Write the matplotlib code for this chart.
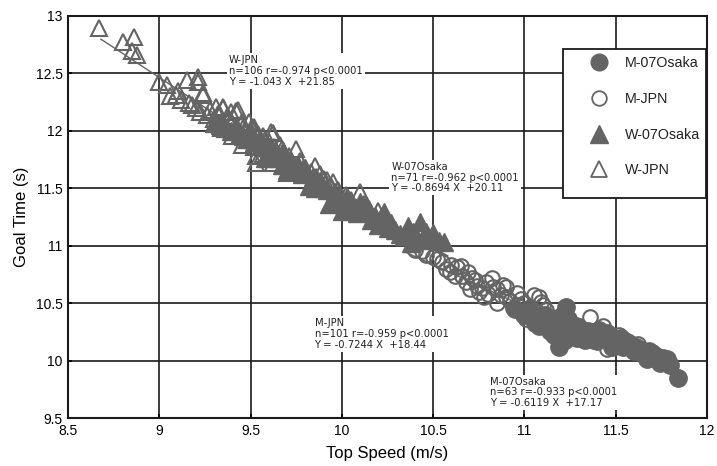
import matplotlib
matplotlib.use("Agg")
import matplotlib.pyplot as plt
from matplotlib.lines import Line2D
from matplotlib.patches import Rectangle
import numpy as np

# Top speed (m/s) and goal time (s) for each group
wjpn_x = [8.67, 8.80, 8.86, 8.85, 8.88, 9.00, 9.04, 9.09, 9.15, 9.21, 9.21, 9.24, 9.12, 9.16,
          9.22, 9.31, 9.35, 9.42, 9.30, 9.40, 9.51, 9.44, 9.55, 9.62, 9.59, 9.53, 9.68, 9.75,
          9.85, 9.70, 9.95, 9.24, 9.35, 9.43, 9.52, 9.61, 9.66, 9.92, 9.53, 10.10, 9.26, 9.33,
          9.37, 9.47, 9.49, 9.57, 9.64, 9.72, 9.80, 9.88, 10.02, 10.20,
          9.28, 9.32, 9.38, 9.39, 9.45, 9.46, 9.50, 9.54, 9.56, 9.58, 9.60, 9.63, 9.65, 9.67,
          9.69, 9.71, 9.74, 9.77, 9.79, 9.83, 9.86, 9.90, 9.94, 9.98, 10.05, 10.12, 10.15, 10.25,
          9.20, 9.18, 9.10, 9.06, 9.34, 9.41, 9.48, 9.52, 9.57, 9.62, 9.45, 9.40]
wjpn_y = [12.89, 12.77, 12.82, 12.69, 12.66, 12.42, 12.40, 12.31, 12.44, 12.47, 12.42, 12.31, 12.27, 12.24,
          12.16, 12.21, 12.20, 12.17, 12.10, 12.07, 12.03, 11.95, 11.92, 11.98, 11.85, 11.78, 11.78, 11.84,
          11.69, 11.63, 11.55, 12.33, 12.21, 12.18, 12.03, 11.99, 11.88, 11.57, 11.72, 11.47, 12.14, 12.06,
          12.12, 11.98, 12.08, 11.95, 11.82, 11.72, 11.66, 11.62, 11.44, 11.30,
          12.18, 12.15, 12.10, 12.16, 12.08, 12.02, 12.00, 11.97, 11.88, 11.92, 11.90, 11.86, 11.80, 11.84,
          11.75, 11.78, 11.70, 11.74, 11.68, 11.64, 11.60, 11.58, 11.52, 11.48, 11.40, 11.36, 11.32, 11.22,
          12.20, 12.22, 12.35, 12.30, 12.02, 12.00, 11.92, 11.86, 11.80, 11.72, 11.88, 11.95]

wosk_x = [9.30, 9.36, 9.42, 9.46, 9.50, 9.55, 9.60, 9.63, 9.68, 9.72, 9.76, 9.80, 9.84, 9.88,
          9.90, 9.93, 9.96, 9.99, 10.03, 10.06, 10.10, 10.14, 10.18, 10.23, 10.27, 10.32, 10.36,
          10.41, 10.43, 10.46, 10.50, 10.56, 9.58, 9.70, 9.82, 10.00, 10.20, 10.38,
          9.33, 9.39, 9.44, 9.48, 9.52, 9.57, 9.62, 9.65, 9.67, 9.74, 9.78, 9.86, 9.92, 9.97,
          10.01, 10.05, 10.08, 10.12, 10.16, 10.21, 10.25, 10.29, 10.34, 10.39, 10.44, 10.48,
          10.53, 9.95, 9.85]
wosk_y = [12.07, 12.02, 12.04, 11.95, 11.98, 11.90, 11.86, 11.80, 11.82, 11.73, 11.70, 11.68, 11.60, 11.56,
          11.50, 11.36, 11.47, 11.40, 11.42, 11.35, 11.38, 11.34, 11.26, 11.29, 11.20, 11.10, 11.17,
          11.07, 11.21, 11.12, 11.11, 11.03, 11.76, 11.66, 11.52, 11.30, 11.18, 11.02,
          12.05, 12.00, 11.98, 11.93, 11.90, 11.88, 11.80, 11.76, 11.70, 11.66, 11.62, 11.55, 11.48, 11.42,
          11.36, 11.31, 11.28, 11.30, 11.22, 11.23, 11.15, 11.14, 11.08, 11.12, 11.05, 11.06,
          11.04, 11.38, 11.50]

mjpn_x = [10.40, 10.46, 10.50, 10.55, 10.59, 10.60, 10.63, 10.65, 10.69, 10.73, 10.68, 10.79, 10.85,
          10.90, 10.96, 11.05, 11.09, 10.85, 10.94, 11.01, 11.16, 11.27, 11.36, 11.45, 11.40, 11.43,
          10.75, 10.82, 11.00, 11.12, 11.20, 11.30, 11.50, 11.55, 11.62, 10.70, 11.24, 10.90,
          10.44, 10.52, 10.57, 10.62, 10.66, 10.71, 10.74, 10.77, 10.80, 10.83, 10.87, 10.88,
          10.92, 10.98, 11.03, 11.07, 11.10, 11.14, 11.18, 11.22, 11.26, 11.33, 11.38, 11.42,
          11.48, 11.52, 11.58, 11.66, 11.70, 10.96, 10.78, 11.08]
mjpn_y = [10.96, 10.92, 10.90, 10.86, 10.77, 10.83, 10.81, 10.82, 10.77, 10.70, 10.68, 10.68, 10.62,
          10.64, 10.59, 10.57, 10.51, 10.50, 10.46, 10.36, 10.33, 10.21, 10.38, 10.10, 10.16, 10.30,
          10.60, 10.72, 10.50, 10.44, 10.40, 10.30, 10.18, 10.12, 10.14, 10.62, 10.28, 10.55,
          10.95, 10.88, 10.80, 10.74, 10.74, 10.72, 10.65, 10.63, 10.58, 10.64, 10.57, 10.66,
          10.52, 10.54, 10.47, 10.42, 10.48, 10.38, 10.30, 10.35, 10.32, 10.26, 10.22, 10.20,
          10.14, 10.22, 10.12, 10.08, 10.05, 10.48, 10.55, 10.55]

mosk_x = [11.23, 11.12, 11.19, 11.27, 11.36, 11.47, 11.56, 11.63, 11.70, 11.74, 11.84, 11.03, 11.09,
          11.18, 11.25, 11.41, 11.78, 11.67, 11.51, 11.19, 10.95, 11.30, 11.33, 11.45, 11.60, 11.72,
          11.06, 11.14,
          11.00, 11.05, 11.08, 11.11, 11.15, 11.16, 11.21, 11.22, 11.28, 11.29, 11.32, 11.35,
          11.38, 11.40, 11.43, 11.49, 11.53, 11.54, 11.58, 11.61, 11.65, 11.68, 11.71, 11.76,
          11.80, 11.24, 11.13, 11.48]
mosk_y = [10.47, 10.30, 10.21, 10.24, 10.21, 10.21, 10.16, 10.10, 10.07, 9.98, 9.85, 10.42, 10.36,
          10.36, 10.30, 10.27, 10.01, 10.01, 10.16, 10.12, 10.45, 10.26, 10.18, 10.24, 10.08, 10.04,
          10.33, 10.26,
          10.40, 10.38, 10.30, 10.40, 10.32, 10.22, 10.28, 10.18, 10.30, 10.20, 10.24, 10.26,
          10.18, 10.22, 10.20, 10.18, 10.20, 10.12, 10.14, 10.12, 10.06, 10.08, 10.02, 10.02,
          9.96, 10.36, 10.35, 10.12]

# Regression fits: (slope, intercept, x range)
fit_wjpn = (-1.043, 21.85, (8.68, 10.30))
fit_wosk = (-0.8694, 20.11, (9.30, 10.58))
fit_mjpn = (-0.7244, 18.44, (10.35, 11.70))
fit_mosk = (-0.6119, 17.17, (10.95, 11.85))

labels = ["M-07Osaka", "M-JPN", "W-07Osaka", "W-JPN"]
notes = [
    "W-JPN\nn=106 r=-0.974 p<0.0001\nY = -1.043 X  +21.85",
    "W-07Osaka\nn=71 r=-0.962 p<0.0001\nY = -0.8694 X  +20.11",
    "M-JPN\nn=101 r=-0.959 p<0.0001\nY = -0.7244 X  +18.44",
    "M-07Osaka\nn=63 r=-0.933 p<0.0001\nY = -0.6119 X  +17.17",
]

grey = "#646464"

fig = plt.figure(figsize=(7.17, 4.66), dpi=100)
ax = fig.add_axes([0.095, 0.103, 0.891, 0.863])
ax.set_axisbelow(True)

ms_open_tri = 11
ms_fill_tri = 13.5
ms_open_cir = 10.5
ms_fill_cir = 12.5
edge_w = 1.5

ax.plot(wosk_x, wosk_y, linestyle="none", marker="^", ms=ms_fill_tri, color=grey, mec=grey, zorder=3)
ax.plot(wjpn_x, wjpn_y, linestyle="none", marker="^", ms=ms_open_tri, mfc="none", mec=grey, mew=edge_w, zorder=3)
ax.plot(mjpn_x, mjpn_y, linestyle="none", marker="o", ms=ms_open_cir, mfc="none", mec=grey, mew=edge_w, zorder=3)
ax.plot(mosk_x, mosk_y, linestyle="none", marker="o", ms=ms_fill_cir, color=grey, mec=grey, zorder=3)

for slope, icpt, (x0, x1) in (fit_wjpn, fit_wosk, fit_mjpn, fit_mosk):
    xs = np.array([x0, x1])
    ax.plot(xs, slope * xs + icpt, color=grey, lw=1.0, zorder=2.5)

note_pos = [(9.38, 12.66), (10.27, 11.73), (9.85, 10.37), (10.81, 9.86)]
for (tx, ty), txt in zip(note_pos, notes):
    ax.text(tx, ty, txt, fontsize=7.2, family="DejaVu Sans", color="#222222",
            va="top", ha="left", linespacing=1.1, zorder=6,
            bbox=dict(facecolor="white", edgecolor="none", pad=1.5))

ax.set_xlim(8.5, 12)
ax.set_ylim(9.5, 13)
ax.set_xticks(np.arange(8.5, 12.01, 0.5))
ax.set_yticks(np.arange(9.5, 13.01, 0.5))
ax.set_xticklabels(["8.5", "9", "9.5", "10", "10.5", "11", "11.5", "12"])
ax.set_yticklabels(["9.5", "10", "10.5", "11", "11.5", "12", "12.5", "13"])
ax.grid(True, color="#1a1a1a", lw=1.2)
for sp in ax.spines.values():
    sp.set_color("#1a1a1a")
    sp.set_linewidth(1.5)
ax.tick_params(direction="in", length=3, width=1.2, pad=4, labelsize=10)
for lab in ax.get_xticklabels() + ax.get_yticklabels():
    lab.set_family("Liberation Sans")

ax.set_xlabel("Top Speed (m/s)", fontsize=12, family="Liberation Sans", labelpad=6)
ax.set_ylabel("Goal Time (s)", fontsize=12, family="Liberation Sans", labelpad=5)

# Legend panel
frame = Rectangle((0.775, 0.547), 0.223, 0.371, transform=ax.transAxes,
                  facecolor="white", edgecolor="#1a1a1a", lw=1.3, zorder=5)
ax.add_patch(frame)
handles = [
    Line2D([], [], linestyle="none", marker="o", ms=12, color=grey),
    Line2D([], [], linestyle="none", marker="o", ms=10.5, mfc="none", mec=grey, mew=1.3),
    Line2D([], [], linestyle="none", marker="^", ms=12.5, color=grey),
    Line2D([], [], linestyle="none", marker="^", ms=11.5, mfc="none", mec=grey, mew=1.3),
]
leg = ax.legend(handles, labels, loc="upper left", bbox_to_anchor=(0.793, 0.90),
                frameon=False, fontsize=10.3, labelspacing=1.52, handlelength=3.36,
                handletextpad=0.14, borderpad=0.0, borderaxespad=0)
leg.set_zorder(6)
for t in leg.get_texts():
    t.set_family("Liberation Sans")
    t.set_color("#222222")

fig.savefig("out.png", dpi=100)
